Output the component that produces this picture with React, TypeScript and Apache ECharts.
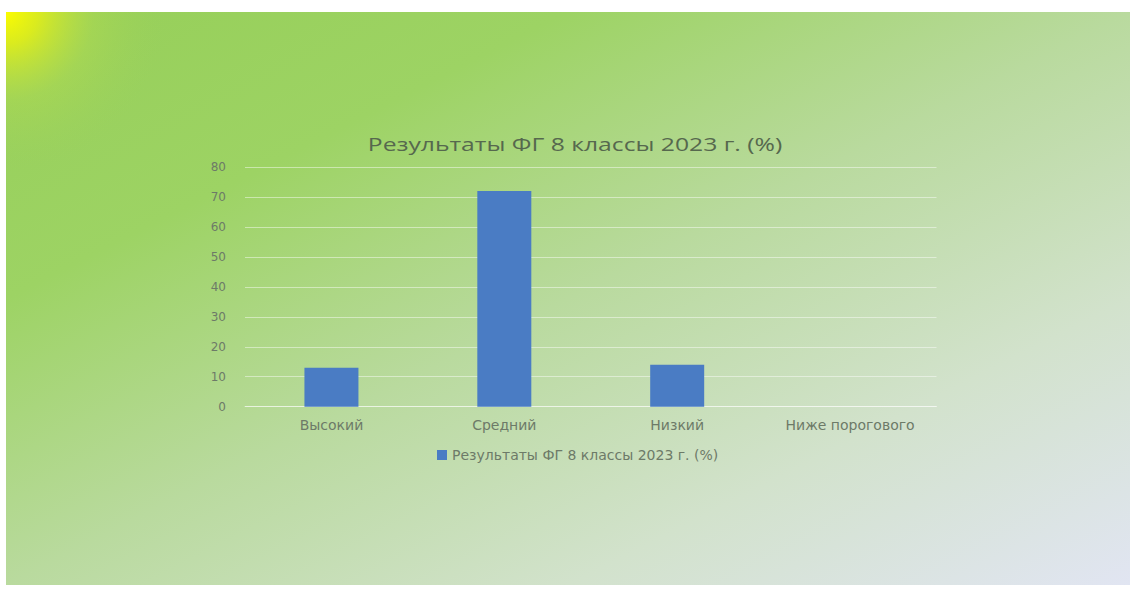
import React, { useEffect, useRef } from "react";
import * as echarts from "echarts";

const titleText = "Результаты ФГ 8 классы 2023 г. (%)";
const seriesName = "Результаты ФГ 8 классы 2023 г. (%)";
const categories = ["Высокий", "Средний", "Низкий", "Ниже порогового"];
const values = [13, 72, 14, 0];
const yMin = 0;
const yMax = 80;
const yStep = 10;

export default function App() {
  const ref = useRef<HTMLDivElement>(null);
  useEffect(() => {
    if (!ref.current) return;
    const chart = echarts.init(ref.current, null, { renderer: "svg" });
    const font = "'Open Sans', 'Noto Sans', sans-serif";
    const wide = "'DejaVu Sans', 'Open Sans', sans-serif";
    chart.setOption({
      animation: false,
      graphic: [
        {
          type: "rect",
          z: -10,
          silent: true,
          shape: { x: 6, y: 12, width: 1124, height: 573 },
          style: {
            fill: {
              type: "linear",
              x: 0,
              y: 0,
              x2: 1,
              y2: 1,
              colorStops: [
                { offset: 0, color: "#96cf58" },
                { offset: 0.25, color: "#9dd364" },
                { offset: 0.5, color: "#b9da9e" },
                { offset: 0.75, color: "#d2e2cc" },
                { offset: 1, color: "#e1e5f2" },
              ],
            },
          },
        },
        {
          type: "rect",
          z: -9,
          silent: true,
          shape: { x: 6, y: 12, width: 300, height: 200 },
          style: {
            fill: {
              type: "radial",
              x: 6,
              y: 12,
              r: 160,
              global: true,
              colorStops: [
                { offset: 0, color: "rgba(252,252,0,1)" },
                { offset: 0.2, color: "rgba(230,240,20,0.85)" },
                { offset: 0.55, color: "rgba(190,225,70,0.3)" },
                { offset: 1, color: "rgba(160,210,90,0)" },
              ],
            },
          },
        },
        {
          type: "text",
          x: 575,
          y: 143,
          scaleX: 1.3,
          style: {
            text: titleText,
            align: "center",
            verticalAlign: "middle",
            fill: "#56684e",
            font: `19px ${font}`,
          },
        },
      ],
      grid: { left: 245, right: 193.5, top: 167, bottom: 183.3 },
      legend: {
        left: 432,
        top: 443,
        itemWidth: 10,
        itemHeight: 10,
        itemGap: 10,
        icon: "rect",
        textStyle: { color: "#6d7a68", fontSize: 14, fontFamily: wide },
        data: [seriesName],
      },
      xAxis: {
        type: "category",
        data: categories,
        axisLine: { show: true, lineStyle: { color: "rgba(255,255,255,0.45)" } },
        axisTick: { show: false },
        axisLabel: { color: "#6d7a68", fontSize: 14, margin: 11, fontFamily: wide },
      },
      yAxis: {
        type: "value",
        min: yMin,
        max: yMax,
        interval: yStep,
        axisLine: { show: false },
        axisTick: { show: false },
        axisLabel: { color: "#6d7a68", fontSize: 12, margin: 19, fontFamily: wide },
        splitLine: { lineStyle: { color: "rgba(255,255,255,0.45)", width: 1 } },
      },
      series: [
        {
          name: seriesName,
          type: "bar",
          data: values,
          barWidth: 54,
          itemStyle: { color: "#4a7cc4" },
        },
      ],
    });
    return () => chart.dispose();
  }, []);
  return (
    <div
      ref={ref}
      style={{ position: "fixed", left: 0, top: 0, width: 1130, height: 590, background: "#ffffff" }}
    />
  );
}
